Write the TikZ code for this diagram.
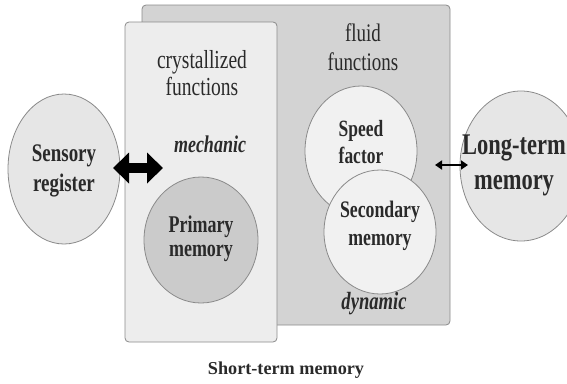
\documentclass[tikz,border=0pt]{standalone}
\usepackage{fontspec}
\setmainfont{Liberation Serif}
\newfontfamily\narrowserif[FakeStretch=0.75]{Liberation Serif}
\usetikzlibrary{arrows.meta}
\definecolor{backbox}{HTML}{D3D3D3}
\definecolor{frontbox}{HTML}{EDEDED}
\definecolor{edgegray}{HTML}{8A8A8A}
\definecolor{ellfill}{HTML}{E6E6E6}
\definecolor{lightfill}{HTML}{F1F1F1}
\definecolor{darkfill}{HTML}{CBCBCB}
\definecolor{txt}{HTML}{2A2A2A}
\begin{document}
\begin{tikzpicture}[x=1pt,y=-1pt,
  boxstyle/.style={draw=edgegray,line width=0.8pt,rounded corners=4pt},
  ell/.style={draw=edgegray,line width=0.8pt},
  lbl/.style={text=txt,align=center,inner sep=0pt},
  bigarrow/.style={line width=10pt,black,{Triangle[length=16pt,width=30pt]}-{Triangle[length=16pt,width=30pt]}},
  smallarrow/.style={line width=2pt,black,{Triangle[length=7pt,width=9pt]}-{Triangle[length=7pt,width=9pt]}}
]
\useasboundingbox (0,0) rectangle (567,383);
% boxes
\draw[boxstyle,fill=backbox] (142,5) rectangle (450,325);
\draw[boxstyle,fill=frontbox] (125,22) rectangle (277,342);
% ellipses
\draw[ell,fill=darkfill] (201,240) ellipse [x radius=57,y radius=63];
\node[lbl,font=\narrowserif\fontsize{24}{24}\selectfont\bfseries] (prim) at (201,239) {Primary\\memory};
\draw[ell,fill=lightfill] (361,151) ellipse [x radius=56,y radius=65];
\node[lbl,font=\narrowserif\fontsize{23.3}{27}\selectfont\bfseries] (speed) at (361,142) {Speed\\factor};
\draw[ell,fill=lightfill] (380,232) ellipse [x radius=56,y radius=62];
\node[lbl,font=\narrowserif\fontsize{23.7}{28}\selectfont\bfseries] (sec) at (380,226) {Secondary\\memory};
\draw[ell,fill=ellfill] (64,169) ellipse [x radius=56,y radius=75];
\node[lbl,font=\narrowserif\fontsize{25.3}{30}\selectfont\bfseries] (sens) at (64,171) {Sensory\\register};
\draw[ell,fill=ellfill] (521,166) ellipse [x radius=61,y radius=75];
\node[lbl,font=\narrowserif\fontsize{30}{35}\selectfont\bfseries] (ltm) at (514,165) {Long-term\\memory};
% box labels
\node[lbl,font=\narrowserif\fontsize{26}{27}\selectfont] (cryst) at (202,73) {crystallized\\functions};
\node[lbl,font=\narrowserif\fontsize{24}{24}\selectfont\bfseries\itshape] (mech) at (210,144) {mechanic};
\node[lbl,font=\narrowserif\fontsize{25.3}{29}\selectfont] (fluid) at (363,47) {fluid\\functions};
\node[lbl,font=\narrowserif\fontsize{24.8}{24}\selectfont\bfseries\itshape] (dyn) at (374,304) {dynamic};
\node[lbl,font=\fontsize{18.2}{24}\selectfont\bfseries] (stm) at (286,370) {Short-term memory};
% arrows
\coordinate (a1) at (113,168);
\coordinate (a2) at (163,168);
\draw[bigarrow] (a1) -- (a2);
\coordinate (b1) at (435,165);
\coordinate (b2) at (468,165);
\draw[smallarrow] (b1) -- (b2);
\end{tikzpicture}
\end{document}
